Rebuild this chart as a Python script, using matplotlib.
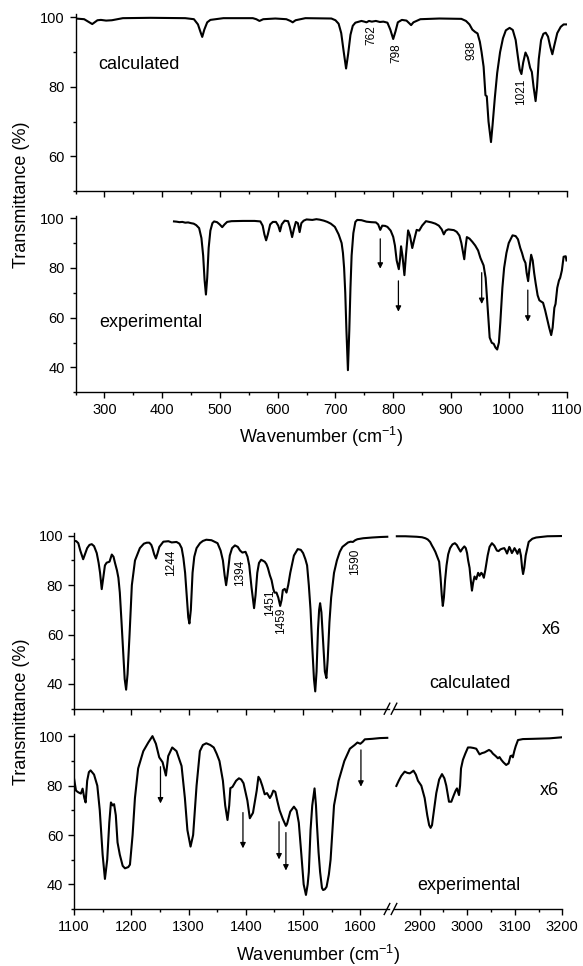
import matplotlib
matplotlib.use("Agg")
import matplotlib.pyplot as plt
from matplotlib.lines import Line2D
from matplotlib.ticker import MultipleLocator, FixedLocator

plt.rcParams['font.family'] = ['Liberation Sans', 'DejaVu Sans']
plt.rcParams['mathtext.fontset'] = 'custom'
plt.rcParams['mathtext.rm'] = 'Liberation Sans'
plt.rcParams['mathtext.it'] = 'Liberation Sans:italic'

# ---------------- data (wavenumber cm-1, transmittance %) ----------------
calc_lo_x = [250, 265, 279, 288, 294, 303, 313, 332, 380, 440, 455, 462, 466, 469.4, 473, 478, 483.5, 506, 557, 563,
             568.5, 575, 596, 615, 622, 626, 631, 648, 693, 700, 705.5, 710, 714, 718.4, 722, 726, 730, 734.5, 745,
             750, 753.8, 758, 763, 770, 777, 783, 790, 795, 800, 804, 808, 815, 823, 828, 831, 835, 847, 880, 918,
             926, 932, 937, 942, 946, 950, 953, 956.5, 959.7, 962, 965, 969.3, 972, 976, 980, 985, 990, 995, 1001.5,
             1007, 1012, 1016, 1019, 1022, 1025, 1029, 1033, 1037, 1040, 1043, 1046.5, 1049, 1052, 1056, 1060, 1064,
             1068, 1072, 1075.5, 1079, 1084, 1090, 1095, 1100]
calc_lo_y = [99.7, 99.5, 98.1, 99.2, 99.3, 99.1, 99.2, 99.8, 99.9, 99.8, 99.5, 98.0, 96.0, 94.4, 96.5, 98.6, 99.3, 99.8,
             99.8, 99.5, 99.0, 99.5, 99.7, 99.5, 99.0, 98.6, 99.2, 99.8, 99.7, 99.2, 98.2, 95.5, 90.5, 85.3, 89.5,
             95.0, 97.6, 98.5, 99.0, 98.8, 98.6, 99.0, 98.8, 99.0, 98.7, 98.8, 98.5, 96.5, 93.8, 96.0, 98.6, 99.3,
             99.1, 98.3, 97.8, 98.6, 99.5, 99.7, 99.6, 99.0, 98.0, 96.5, 95.8, 95.4, 93.0, 90.0, 85.8, 77.6, 77.3,
             70.0, 64.1, 69.0, 77.0, 84.0, 90.0, 94.0, 96.3, 97.0, 96.4, 93.5, 88.5, 85.0, 83.7, 87.0, 89.9, 88.5,
             85.5, 84.3, 80.0, 75.9, 80.0, 88.0, 93.5, 95.3, 95.6, 94.5, 91.5, 89.4, 92.0, 95.5, 97.3, 98.0, 98.0]

exp_lo_x = [420.5, 425, 430, 435, 440, 445, 450, 454.6, 459, 464, 468, 471, 473.5, 475.8, 478, 480.5, 483.5, 487, 490,
            495, 499.6, 504, 508, 512.5, 520, 540, 560, 570, 574, 577, 580, 583, 587, 591.6, 597, 601, 604, 607, 612,
            618, 621, 625, 628, 631.5, 635, 638, 641, 645, 650, 660, 667, 673, 680, 686, 692, 699, 705.5, 710.7, 713,
            715, 717, 719, 721.6, 724, 726, 728, 731, 734.5, 737.7, 745, 753.8, 762, 770, 774, 777.6, 781, 786, 790,
            795.6, 800, 803, 806, 809.7, 812, 813.6, 816, 819.4, 822, 825.8, 829, 833, 836, 840.6, 845, 850, 856.7,
            866.4, 873, 879, 884, 887.6, 891, 895.3, 905, 910, 914.6, 918, 921, 923, 925, 927.5, 932, 937, 942, 947,
            951, 956.5, 960, 964, 967, 970.6, 974, 977, 980, 983, 985.4, 989, 992, 996, 1000, 1006.6, 1012, 1016,
            1020, 1023, 1026, 1029, 1031, 1033.6, 1036, 1038.8, 1041.5, 1044, 1046.5, 1050, 1053, 1056, 1059.4, 1063,
            1066, 1070, 1073.5, 1076, 1079, 1081, 1084, 1087, 1089, 1092, 1095, 1098.6, 1100]
exp_lo_y = [98.7, 98.6, 98.4, 98.5, 98.2, 98.3, 98.0, 97.8, 97.2, 96.0, 92.0, 85.0, 75.0, 69.3, 76.0, 88.0, 95.0, 98.0,
            98.7, 98.4, 97.5, 96.4, 97.5, 98.5, 98.8, 98.9, 98.9, 98.7, 97.0, 93.5, 91.1, 93.5, 97.5, 98.5, 98.5, 97.0,
            94.7, 97.5, 99.0, 98.8, 96.5, 92.4, 95.5, 98.5, 98.0, 94.4, 98.0, 99.0, 99.5, 99.3, 99.6, 99.4, 99.0,
            98.5, 97.8, 96.5, 93.5, 90.0, 86.0, 80.0, 70.0, 55.0, 38.9, 55.0, 72.0, 85.0, 94.0, 98.5, 99.3, 99.2,
            98.6, 98.4, 98.3, 97.5, 95.3, 97.0, 96.9, 96.5, 95.0, 92.5, 89.0, 83.0, 79.5, 84.0, 88.7, 85.0, 77.1,
            85.0, 95.1, 93.0, 88.0, 91.0, 95.3, 95.0, 97.0, 98.8, 98.3, 97.8, 97.0, 95.5, 93.5, 95.0, 95.5, 95.2,
            94.5, 93.0, 90.0, 86.0, 83.5, 88.0, 92.4, 91.8, 90.5, 89.0, 87.0, 84.0, 81.0, 76.0, 62.0, 52.0, 49.9,
            49.5, 48.0, 47.2, 50.0, 58.0, 72.0, 80.0, 86.0, 90.0, 93.1, 92.8, 91.5, 88.0, 86.0, 83.5, 82.0, 78.0,
            74.7, 80.0, 85.3, 83.0, 78.0, 74.0, 69.0, 67.0, 66.5, 66.0, 63.0, 60.0, 56.0, 53.0, 56.0, 64.0, 65.5,
            72.0, 75.0, 76.0, 79.0, 84.5, 84.7, 83.0]

calc_hi1_x = [1100, 1104, 1107.5, 1111, 1116, 1120, 1123, 1127, 1131, 1135, 1139.7, 1143, 1145.5, 1148.4, 1151, 1154,
              1157, 1162, 1166, 1169, 1171.6, 1175, 1177.5, 1180, 1183, 1186, 1188.5, 1191, 1193.5, 1197, 1201,
              1206.5, 1215, 1222, 1227, 1231.5, 1235, 1237, 1240, 1243, 1246, 1249, 1256, 1264.8, 1270.6, 1279, 1284,
              1288, 1291, 1294, 1297, 1299.5, 1301.5, 1304, 1307, 1310, 1314, 1320, 1325, 1331, 1340, 1350.6, 1356,
              1360, 1363, 1365.6, 1368, 1372, 1376, 1381, 1386, 1390, 1394, 1399.5, 1403, 1406, 1410, 1414.4, 1417,
              1420, 1423, 1426.8, 1433, 1436, 1438.5, 1442, 1445, 1448, 1450, 1453.5, 1456.7, 1460, 1462.5, 1464.6,
              1468, 1471, 1474, 1477.6, 1484, 1490.6, 1496, 1500, 1504, 1507, 1510, 1513, 1516, 1519, 1521.2, 1523.5,
              1526, 1528, 1529.7, 1532, 1535, 1538, 1540.7, 1543, 1546, 1549, 1554, 1559, 1564, 1568.7, 1578.5, 1583,
              1587, 1591, 1594.8, 1605, 1620.8, 1635, 1647]
calc_hi1_y = [98.0, 97.8, 97.0, 94.0, 90.5, 93.0, 95.0, 96.3, 96.6, 95.8, 93.0, 89.0, 85.0, 78.4, 83.0, 88.0, 89.1,
              89.5, 92.4, 91.5, 89.0, 86.0, 83.0, 77.0, 65.0, 52.0, 42.0, 37.7, 44.0, 60.0, 80.0, 90.0, 95.0, 96.8,
              97.2, 97.2, 96.3, 95.0, 92.5, 90.8, 93.0, 95.5, 97.6, 97.8, 97.3, 97.5, 96.8, 95.0, 91.0, 85.0, 75.0,
              67.0, 64.5, 70.0, 85.0, 91.5, 95.0, 97.0, 97.9, 98.4, 98.2, 97.0, 94.0, 90.0, 84.0, 80.0, 84.0, 92.0,
              95.0, 96.1, 95.5, 94.0, 93.2, 93.5, 91.5, 88.0, 79.0, 70.7, 76.0, 85.0, 89.0, 90.3, 89.5, 88.5, 87.0,
              84.0, 82.0, 78.5, 77.0, 77.0, 75.0, 71.6, 74.0, 78.0, 78.5, 77.0, 80.0, 85.0, 92.0, 94.6, 94.3, 93.0,
              90.5, 88.0, 80.0, 70.0, 55.0, 42.0, 37.0, 45.0, 62.0, 70.0, 72.7, 69.0, 57.0, 45.0, 42.4, 50.0, 65.0,
              75.0, 85.0, 90.0, 93.5, 95.5, 97.3, 97.6, 97.5, 98.2, 98.6, 99.0, 99.3, 99.5, 99.6]

calc_hi2_x = [2852, 2870, 2893.7, 2905, 2912, 2917, 2922, 2926, 2929, 2933, 2937, 2941, 2944, 2946.5, 2948.7, 2951,
              2953.5, 2956.5, 2960, 2964, 2969, 2974, 2978, 2981.7, 2986, 2990, 2994, 2997, 2999.7, 3002, 3005,
              3007.5, 3010, 3012.5, 3015.4, 3019, 3023, 3026, 3029.6, 3032, 3035, 3038, 3043, 3047, 3052, 3057,
              3062.5, 3066, 3070, 3074, 3078, 3081, 3083.8, 3086, 3088.5, 3091, 3094, 3097, 3099.5, 3102.5, 3105.7,
              3108, 3110, 3113, 3115.5, 3117.5, 3120, 3123, 3129.3, 3137, 3145, 3168.6, 3200]
calc_hi2_y = [99.8, 99.8, 99.6, 99.4, 99.0, 98.5, 97.5, 96.0, 95.0, 93.5, 91.5, 89.5, 83.0, 76.0, 71.6, 75.0, 82.0,
              88.0, 92.5, 95.0, 96.5, 97.0, 96.3, 95.0, 93.6, 94.8, 95.7, 95.0, 93.0, 90.0, 87.0, 82.0, 77.8, 81.0,
              83.5, 82.4, 85.0, 83.8, 85.0, 84.5, 83.0, 86.0, 92.0, 95.5, 97.0, 96.0, 94.0, 93.8, 94.5, 94.8, 95.0,
              94.0, 92.8, 94.0, 95.5, 94.5, 93.0, 94.0, 95.0, 94.0, 92.7, 94.0, 94.6, 92.0, 87.0, 84.5, 87.0, 92.0,
              97.5, 98.8, 99.3, 99.8, 99.9]

exp_hi1_x = [1100, 1103.5, 1107.6, 1112, 1115, 1118, 1120.3, 1123, 1126, 1129, 1135, 1140.7, 1145, 1150, 1154, 1158,
             1161.6, 1164.5, 1167.4, 1170, 1173, 1176, 1180, 1185, 1189, 1194.8, 1197.7, 1202.3, 1206.4, 1212, 1221,
             1229.7, 1237, 1243, 1248.8, 1254.7, 1260.5, 1264.5, 1271.5, 1279, 1287.8, 1293.6, 1298, 1303.5, 1308,
             1314, 1319.8, 1325, 1331, 1338, 1344, 1349, 1354, 1360, 1364, 1368, 1371, 1373, 1376.7, 1383, 1388,
             1392, 1396, 1402.7, 1407, 1412.5, 1419, 1422, 1425, 1428.7, 1433, 1437, 1442, 1445, 1448, 1451.5,
             1454.8, 1459, 1464.6, 1470, 1472, 1477.6, 1484, 1488.6, 1492.5, 1497, 1501, 1505, 1508, 1510, 1513,
             1516, 1520, 1522.5, 1524, 1527, 1529.7, 1533, 1535, 1538, 1541, 1545, 1548, 1554, 1562, 1572, 1581.7,
             1590, 1594.8, 1600, 1604, 1607.8, 1620.8, 1634, 1647]
exp_hi1_y = [83.0, 78.0, 77.3, 76.8, 78.8, 75.0, 73.2, 82.0, 85.5, 86.2, 84.5, 80.0, 70.0, 52.0, 42.2, 50.0, 65.0,
             73.2, 72.0, 72.5, 68.0, 57.0, 52.0, 47.5, 46.5, 47.0, 48.0, 60.0, 75.0, 87.0, 94.0, 97.5, 100.1, 97.0,
             91.5, 89.5, 84.1, 92.0, 95.5, 94.0, 88.0, 75.0, 62.0, 55.3, 60.0, 80.0, 94.0, 96.5, 97.2, 96.5, 95.5,
             93.0, 90.0, 82.0, 72.0, 66.1, 72.0, 79.0, 79.5, 82.0, 83.0, 82.5, 81.0, 74.0, 66.8, 69.0, 78.0, 83.6,
             82.5, 80.0, 76.5, 77.0, 75.0, 76.2, 78.0, 77.5, 74.0, 70.0, 66.5, 63.7, 64.5, 69.5, 71.5, 70.0, 65.0,
             52.0, 40.0, 35.7, 40.0, 45.0, 62.0, 72.0, 78.9, 72.0, 65.0, 53.0, 45.0, 38.5, 37.7, 38.0, 39.0, 44.0,
             50.0, 72.0, 82.0, 90.0, 95.0, 96.5, 97.5, 97.0, 97.8, 98.8, 99.0, 99.3, 99.4]

exp_hi2_x = [2851, 2856, 2861.5, 2868.5, 2874, 2879, 2883, 2887, 2892, 2896.5, 2903.5, 2910.5, 2916, 2920, 2923, 2926,
             2928, 2935, 2941, 2947, 2952, 2956, 2961.7, 2966.6, 2971.5, 2975.7, 2978.5, 2982.7, 2985, 2987, 2991,
             2996, 3001.6, 3007, 3013, 3019, 3026, 3031, 3036.5, 3045.8, 3050, 3054, 3060, 3064.7, 3068, 3071.7,
             3076, 3082, 3085, 3087, 3091, 3094, 3096, 3099, 3102, 3106.8, 3117, 3138, 3173, 3198]
exp_hi2_y = [79.9, 82.0, 84.0, 85.7, 85.2, 85.0, 85.5, 86.1, 84.5, 82.0, 80.0, 75.0, 68.0, 64.0, 62.9, 64.0, 67.0,
             77.0, 82.5, 84.7, 83.0, 80.0, 73.5, 73.5, 76.0, 78.0, 78.9, 76.2, 80.0, 87.0, 90.5, 93.0, 95.5, 95.5,
             95.3, 95.0, 92.7, 93.2, 93.5, 94.5, 94.0, 93.0, 92.0, 91.1, 91.6, 90.5, 89.5, 88.4, 88.8, 89.0, 92.0,
             92.2, 91.5, 94.0, 96.0, 98.5, 98.9, 99.0, 99.2, 99.6]

# annotations
calc_lo_labels = ["762", "798", "938", "1021"]
calc_lo_label_x = [763, 805, 936, 1021]
calc_lo_label_y = [94.9, 89.6, 90.6, 78.6]
exp_lo_arrow_x = [777.6, 809, 953.2, 1033]
exp_lo_arrow_y0 = [91.7, 74.8, 78.1, 71.1]
exp_lo_arrow_y1 = [79.7, 62.4, 65.5, 58.4]
calc_hi_labels = ["1244", "1394", "1451", "1459", "1590"]
calc_hi_label_x = [1269, 1390, 1442, 1461, 1590]
calc_hi_label_y = [89.2, 85.1, 72.7, 65.5, 89.6]
exp_hi_arrow_x = [1251, 1395, 1458, 1470, 1601]
exp_hi_arrow_y0 = [87.7, 69.1, 65.4, 61.0, 94.5]
exp_hi_arrow_y1 = [72.8, 54.6, 50.1, 45.6, 79.6]

# ---------------- figure ----------------
W, H = 583, 966
fig = plt.figure(figsize=(W / 100, H / 100), dpi=100)


def add_ax(l, r, t, b):
    return fig.add_axes([l / W, 1 - b / H, (r - l) / W, (b - t) / H])


LW = 1.5
TICK = dict(direction='out', width=1.0, labelsize=10.5, pad=3.5)


def style(ax, left=True):
    for s in ['top', 'right']:
        ax.spines[s].set_visible(False)
    ax.spines['left'].set_visible(left)
    for s in ['left', 'bottom']:
        ax.spines[s].set_linewidth(1.0)
    ax.tick_params(which='major', length=4.3, **TICK)
    ax.tick_params(which='minor', length=2.3, direction='out', width=1.0)
    if not left:
        ax.tick_params(axis='y', which='both', left=False, labelleft=False)


# upper section
ax1 = add_ax(75.5, 566.5, 14, 191)
ax1.plot(calc_lo_x, calc_lo_y, color='k', lw=LW)
ax1.set_xlim(250, 1100)
ax1.set_ylim(50, 101)
ax1.xaxis.set_major_locator(MultipleLocator(100))
ax1.xaxis.set_minor_locator(MultipleLocator(50))
ax1.yaxis.set_major_locator(FixedLocator([60, 80, 100]))
ax1.yaxis.set_minor_locator(FixedLocator([50, 70, 90]))
style(ax1)
ax1.tick_params(axis='x', labelbottom=False)
ax1.text(359, 86.4, "calculated", fontsize=13, ha='center', va='center')
for t, x, y in zip(calc_lo_labels, calc_lo_label_x, calc_lo_label_y):
    ax1.text(x, y, t, rotation=90, fontsize=8.5, ha='center', va='center')

ax2 = add_ax(75.5, 566.5, 215.7, 392.3)
ax2.plot(exp_lo_x, exp_lo_y, color='k', lw=LW)
ax2.set_xlim(250, 1100)
ax2.set_ylim(30, 101)
ax2.xaxis.set_major_locator(MultipleLocator(100))
ax2.xaxis.set_minor_locator(MultipleLocator(50))
ax2.yaxis.set_major_locator(FixedLocator([40, 60, 80, 100]))
ax2.yaxis.set_minor_locator(FixedLocator([30, 50, 70, 90]))
style(ax2)
ax2.text(381, 58.2, "experimental", fontsize=13, ha='center', va='center')
for x, y0, y1 in zip(exp_lo_arrow_x, exp_lo_arrow_y0, exp_lo_arrow_y1):
    ax2.annotate('', xy=(x, y1), xytext=(x, y0),
                 arrowprops=dict(arrowstyle='-|>', color='k', lw=0.9, mutation_scale=8, shrinkA=0, shrinkB=0))

fig.text(21.7 / W, 1 - 195 / H, "Transmittance (%)", rotation=90, fontsize=13, ha='center', va='center')
fig.text(321 / W, 1 - 437 / H, "Wavenumber (cm$^{-1}$)", fontsize=13, ha='center', va='center')

# lower section
LX0, LX1, RX0, RX1 = 74, 389, 393.5, 562.3
rows = [(533.3, 708.7, calc_hi1_x, calc_hi1_y, calc_hi2_x, calc_hi2_y),
        (733.9, 909.0, exp_hi1_x, exp_hi1_y, exp_hi2_x, exp_hi2_y)]
lower_axes = []
for i, (t, b, x1, y1, x2, y2) in enumerate(rows):
    axl = add_ax(LX0, LX1, t, b)
    axr = add_ax(RX0, RX1, t, b)
    axl.plot(x1, y1, color='k', lw=LW)
    axr.plot(x2, y2, color='k', lw=LW)
    axl.set_xlim(1100, 1650)
    axr.set_xlim(2845, 3200)
    for a in (axl, axr):
        a.set_ylim(30, 101)
        a.yaxis.set_major_locator(FixedLocator([40, 60, 80, 100]))
        a.yaxis.set_minor_locator(FixedLocator([30, 50, 70, 90]))
    axl.xaxis.set_major_locator(FixedLocator([1100, 1200, 1300, 1400, 1500, 1600]))
    axl.xaxis.set_minor_locator(FixedLocator([1150, 1250, 1350, 1450, 1550]))
    axr.xaxis.set_major_locator(FixedLocator([2900, 3000, 3100, 3200]))
    axr.xaxis.set_minor_locator(FixedLocator([2950, 3050, 3150]))
    style(axl)
    style(axr, left=False)
    if i == 0:
        axl.tick_params(axis='x', labelbottom=False)
        axr.tick_params(axis='x', labelbottom=False)
    # break marks
    for cx in (387.0, 394.0):
        fig.add_artist(Line2D([(cx - 2.8) / W, (cx + 2.8) / W], [1 - (b + 5.5) / H, 1 - (b - 5.5) / H],
                              transform=fig.transFigure, color='k', lw=1.0))
    lower_axes.append((axl, axr))

(axc_l, axc_r), (axe_l, axe_r) = lower_axes
for t, x, y in zip(calc_hi_labels, calc_hi_label_x, calc_hi_label_y):
    axc_l.text(x, y, t, rotation=90, fontsize=8.5, ha='center', va='center')
axc_r.text(3176, 61.9, "x6", fontsize=13, ha='center', va='center')
axc_r.text(3006, 40.4, "calculated", fontsize=13, ha='center', va='center')

for x, y0, y1 in zip(exp_hi_arrow_x, exp_hi_arrow_y0, exp_hi_arrow_y1):
    axe_l.annotate('', xy=(x, y1), xytext=(x, y0),
                   arrowprops=dict(arrowstyle='-|>', color='k', lw=0.9, mutation_scale=8, shrinkA=0, shrinkB=0))
axe_r.text(3173, 78.2, "x6", fontsize=13, ha='center', va='center')
axe_r.text(3004, 39.7, "experimental", fontsize=13, ha='center', va='center')

fig.text(21.7 / W, 1 - 711.5 / H, "Transmittance (%)", rotation=90, fontsize=13, ha='center', va='center')
fig.text(318 / W, 1 - 955 / H, "Wavenumber (cm$^{-1}$)", fontsize=13, ha='center', va='center')

fig.savefig("out.png", dpi=100)
